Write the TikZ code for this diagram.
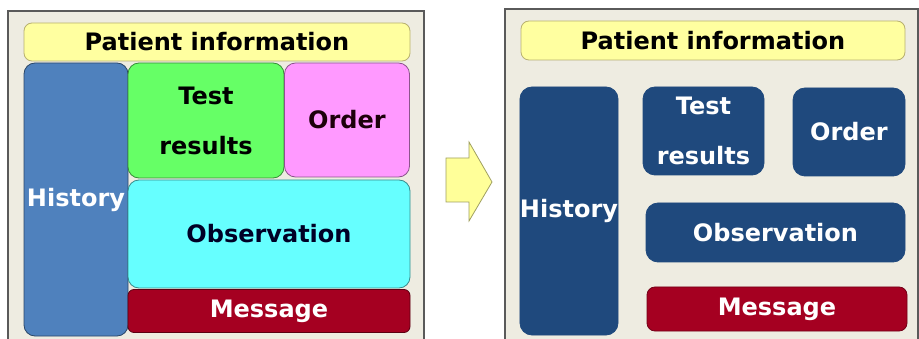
\documentclass[tikz,border=0pt]{standalone}
\usepackage{fontspec}
\setmainfont{DejaVu Sans}
\definecolor{bgtan}{HTML}{EEECE1}
\definecolor{frameg}{HTML}{5A5A5A}
\definecolor{pyellow}{HTML}{FFFFA0}
\definecolor{pyellowd}{HTML}{B8B070}
\definecolor{histblue}{HTML}{4F81BD}
\definecolor{tgreen}{HTML}{66FF66}
\definecolor{omag}{HTML}{FF99FF}
\definecolor{ocyan}{HTML}{66FFFF}
\definecolor{msgred}{HTML}{A50021}
\definecolor{navy}{HTML}{1F497D}
\definecolor{arrowy}{HTML}{FFFF99}
\definecolor{arrowd}{HTML}{A0A060}
\tikzset{
  box/.style={rectangle, rounded corners=11pt, inner sep=0pt, line width=0.8pt,
    font=\fontsize{24}{50}\selectfont\bfseries, align=center},
  frame/.style={fill=bgtan, draw=frameg, line width=1.2pt},
  pinfo/.style={box, fill=pyellow, draw=pyellowd, text=black, rounded corners=8pt},
  leftbox/.style={box, fill=#1, draw=#1!55!black},
  rightbox/.style={box, fill=navy, draw=navy, text=white, rounded corners=12pt},
}
\begin{document}
\begin{tikzpicture}[x=1pt,y=-1pt]
\useasboundingbox (0,0) rectangle (919,339);
\fill[white] (0,0) rectangle (919,339);
% left frame
\draw[frame] (8,340) -- (8,11) -- (424,11) -- (424,340);
% right frame
\draw[frame] (505,340) -- (505,9) -- (918,9) -- (918,340);

% left panel
\node[pinfo, minimum width=386pt, minimum height=38pt] (pL) at (217,42) {Patient information};
\node[leftbox=histblue, text=white, minimum width=104pt, minimum height=273pt] (hL) at (76,199.5) {History};
\node[leftbox=tgreen, text=black, minimum width=156pt, minimum height=115pt] (tL) at (206,120.5) {Test\\results};
\node[leftbox=omag, text=black!85!purple, minimum width=125pt, minimum height=114pt] (oL) at (347,120) {Order};
\node[leftbox=ocyan, text=black!85!blue, minimum width=282pt, minimum height=108pt] (bL) at (269,234) {Observation};
\node[leftbox=msgred, text=white, minimum width=282pt, minimum height=43pt, rounded corners=6pt] (mL) at (269,311) {Message};

% arrow
\draw[fill=arrowy, draw=arrowd, line width=0.8pt]
  (446,158) -- (469,158) -- (469,142) -- (492,182) -- (469,221) -- (469,202) -- (446,202) -- cycle;

% right panel
\node[pinfo, minimum width=384pt, minimum height=39pt] (pR) at (713,40.5) {Patient information};
\node[rightbox, minimum width=96pt, minimum height=248pt] (hR) at (569,211) {History};
\node[rightbox, minimum width=121pt, minimum height=88pt] (tR) at (703.5,131) {Test\\results};
\node[rightbox, minimum width=112pt, minimum height=88pt] (oR) at (849,132) {Order};
\node[rightbox, minimum width=259pt, minimum height=59pt] (bR) at (775.5,232.5) {Observation};
\node[box, fill=msgred, draw=msgred!70!black, text=white, minimum width=260pt, minimum height=44pt, rounded corners=8pt] (mR) at (777,309) {Message};
\end{tikzpicture}
\end{document}
